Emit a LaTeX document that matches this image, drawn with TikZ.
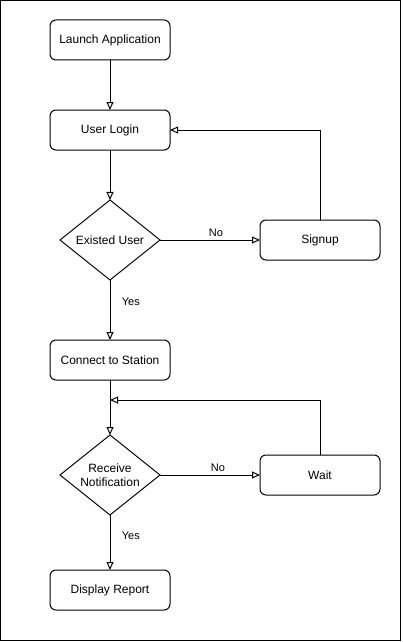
\documentclass[tikz,border=0pt]{standalone}
\usepackage{fontspec}
\setmainfont{Liberation Sans}
\usetikzlibrary{arrows.meta,positioning,shapes.geometric}

\begin{document}
\begin{tikzpicture}[
  x=1pt, y=1pt,
  node distance=50pt and 100pt,
  font=\fontsize{12}{14}\selectfont,
  proc/.style={draw, rectangle, rounded corners=6pt, minimum width=120pt, minimum height=40pt, align=center, line width=1pt, outer sep=0pt},
  decision/.style={draw, diamond, minimum width=100pt, minimum height=80pt, inner sep=0pt, line width=1pt, outer sep=0pt},
  arrow/.style={-{Triangle[open,length=8pt,width=7pt]}, line width=1pt},
  lbl/.style={font=\fontsize{11}{13}\selectfont}
]
  \useasboundingbox (0,0) rectangle (402,-642);
  \draw[line width=1pt] (0.5,-0.5) rectangle (400.5,-640.5);

  % Nodes
  \node[proc] (launch) at (110,-40) {Launch Application};
  \node[proc, below=of launch] (login) {User Login};
  \node[decision, below=of login, label={center:Existed User}] (existed) {};
  \node[proc, right=of existed] (signup) {Signup};
  \node[proc, below=60pt of existed] (connect) {Connect to Station};
  \coordinate[below=20pt of connect] (merge);
  \node[decision, below=55pt of connect, label={[align=center]center:Receive\\Notification}] (notify) {};
  \node[proc, right=of notify] (wait) {Wait};
  \node[proc, below=55pt of notify] (report) {Display Report};

  % Arrows
  \draw[arrow] (launch) -- (login);
  \draw[arrow] (login) -- (existed);
  \draw[arrow] (existed) -- node[lbl, above, pos=0.56] {No} (signup);
  \draw[arrow] (signup.north) |- (login.east);
  \draw[arrow] (existed) -- node[lbl, right=8pt, pos=0.37] {Yes} (connect);
  \draw[arrow] (connect) -- (notify);
  \draw[arrow] (notify) -- node[lbl, above, pos=0.58] {No} (wait);
  \draw[arrow] (wait.north) |- (merge);
  \draw[arrow] (notify) -- node[lbl, right=8pt, pos=0.38] {Yes} (report);
\end{tikzpicture}
\end{document}
